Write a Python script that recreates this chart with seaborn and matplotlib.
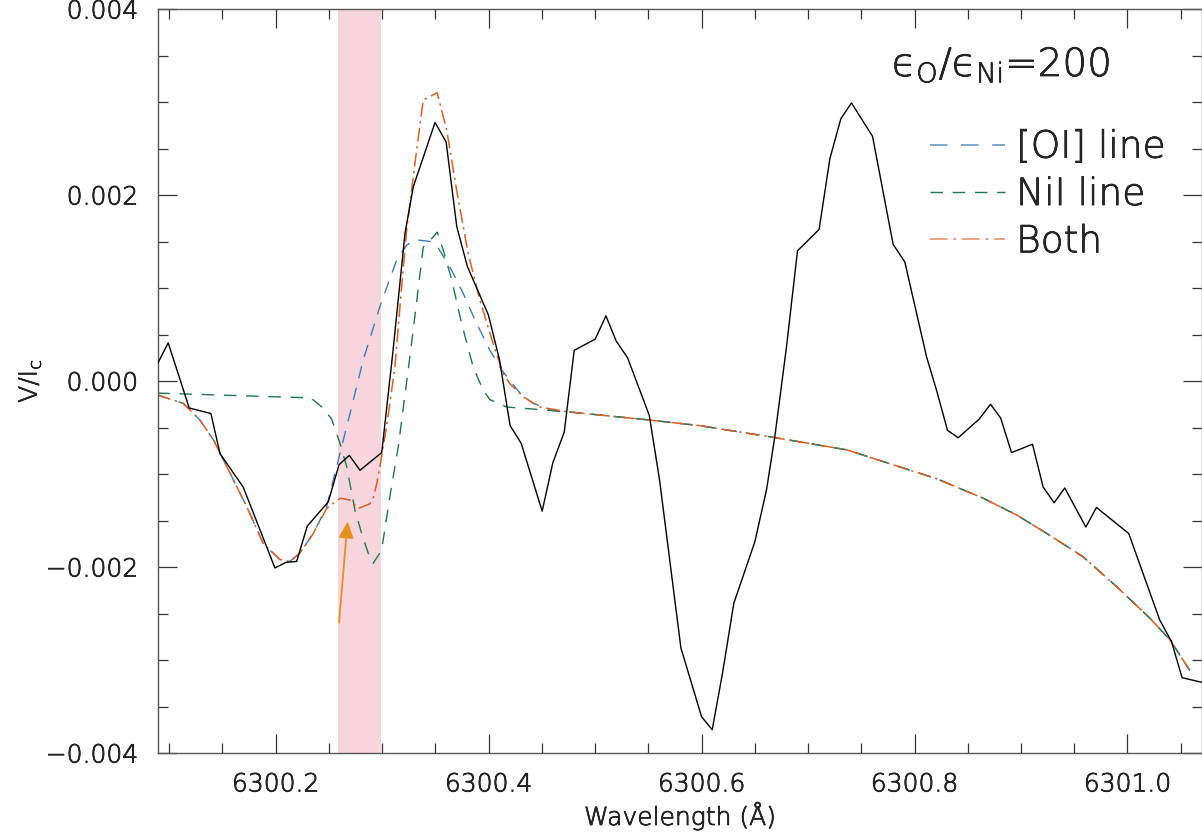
import numpy as np
import matplotlib
matplotlib.use("Agg")
import matplotlib.pyplot as plt
import matplotlib.patheffects as pe
import seaborn as sns
from matplotlib.lines import Line2D
from matplotlib.ticker import MultipleLocator, FormatStrFormatter, FuncFormatter

# observed Stokes V profile
wl_obs = [6300.0888, 6300.0991, 6300.1188, 6300.1392, 6300.1477, 6300.1695,
          6300.1993, 6300.2097, 6300.2197, 6300.2297, 6300.2494, 6300.2595,
          6300.2692, 6300.2792, 6300.2996, 6300.3100, 6300.3215, 6300.3293,
          6300.3497, 6300.3601, 6300.3701, 6300.3801, 6300.3998, 6300.4102,
          6300.4202, 6300.4306, 6300.4503, 6300.4603, 6300.4710, 6300.4804,
          6300.5001, 6300.5102, 6300.5198, 6300.5305, 6300.5509, 6300.5605,
          6300.5806, 6300.6000, 6300.6100, 6300.6197, 6300.6303, 6300.6500,
          6300.6610, 6300.6688, 6300.6798, 6300.6901, 6300.7104, 6300.7205,
          6300.7308, 6300.7408, 6300.7606, 6300.7799, 6300.7909, 6300.8113,
          6300.8207, 6300.8310, 6300.8410, 6300.8607, 6300.8714, 6300.8810,
          6300.8911, 6300.9108, 6300.9208, 6300.9311, 6300.9411, 6300.9609,
          6300.9709, 6301.0012, 6301.0303, 6301.0413, 6301.0513, 6301.0698]
v_obs = [0.00018, 0.00041, -0.00029, -0.00035, -0.00078, -0.00114,
         -0.00201, -0.00195, -0.00194, -0.00156, -0.00130, -0.00090,
         -0.00080, -0.00096, -0.00077, 0.00030, 0.00159, 0.00209,
         0.00278, 0.00257, 0.00166, 0.00123, 0.00071, 0.00023,
         -0.00048, -0.00067, -0.00140, -0.00088, -0.00055, 0.00033,
         0.00045, 0.00070, 0.00043, 0.00025, -0.00037, -0.00106,
         -0.00287, -0.00361, -0.00375, -0.00314, -0.00239, -0.00173,
         -0.00117, -0.00060, 0.00037, 0.00140, 0.00163, 0.00239,
         0.00282, 0.00299, 0.00263, 0.00147, 0.00128, 0.00026,
         -0.00010, -0.00053, -0.00061, -0.00041, -0.00025, -0.00040,
         -0.00077, -0.00068, -0.00114, -0.00131, -0.00115, -0.00157,
         -0.00136, -0.00164, -0.00257, -0.00280, -0.00319, -0.00324]

# common far wing of the synthetic profiles
wl_tail = [6300.4733, 6300.5515, 6300.5984, 6300.6642, 6300.7362, 6300.8206,
           6300.8644, 6300.8958, 6300.9271, 6300.9583, 6300.9897, 6301.0210,
           6301.0397, 6301.0585]
v_tail = [-0.00033, -0.00042, -0.00048, -0.00060, -0.00074, -0.00105,
          -0.00126, -0.00144, -0.00166, -0.00189, -0.00221, -0.00255,
          -0.00278, -0.00311]

# [OI] line synthesis
wl_oi = [6300.0888, 6300.1132, 6300.1289, 6300.1414, 6300.1571, 6300.1728,
         6300.1884, 6300.2040, 6300.2134, 6300.2228, 6300.2353, 6300.2479,
         6300.2573, 6300.2698, 6300.2823, 6300.2979, 6300.3136, 6300.3230,
         6300.3308, 6300.3449, 6300.3527, 6300.3653, 6300.3762, 6300.3887,
         6300.4012, 6300.4122, 6300.4231, 6300.4325, 6300.4419, 6300.4607]
v_oi = [-0.00015, -0.00024, -0.00042, -0.00063, -0.00099, -0.00135,
        -0.00175, -0.00192, -0.00194, -0.00185, -0.00164, -0.00135,
        -0.00092, -0.00035, 0.00023, 0.00080, 0.00130, 0.00146,
        0.00152, 0.00150, 0.00143, 0.00119, 0.00094, 0.00062,
        0.00033, 0.00012, -0.00004, -0.00017, -0.00024, -0.00032]

# NiI line synthesis
wl_ni = [6300.0888, 6300.2291, 6300.2338, 6300.2447, 6300.2526, 6300.2604,
         6300.2667, 6300.2745, 6300.2808, 6300.2869, 6300.2916, 6300.2995,
         6300.3073, 6300.3151, 6300.3245, 6300.3292, 6300.3386, 6300.3465,
         6300.3517, 6300.3574, 6300.3653, 6300.3746, 6300.3855, 6300.3949,
         6300.4012, 6300.4169, 6300.4513]
v_ni = [-0.00013, -0.00018, -0.00019, -0.00029, -0.00041, -0.00067,
        -0.00092, -0.00139, -0.00164, -0.00185, -0.00196, -0.00182,
        -0.00124, -0.00071, 0.00012, 0.00055, 0.00144, 0.00153,
        0.00160, 0.00141, 0.00109, 0.00062, 0.00015, -0.00010,
        -0.00020, -0.00028, -0.00031]

# both lines together
wl_both = [6300.0888, 6300.1132, 6300.1289, 6300.1414, 6300.1571, 6300.1728,
           6300.1884, 6300.2040, 6300.2134, 6300.2228, 6300.2353, 6300.2479,
           6300.2604, 6300.2698, 6300.2776, 6300.2885, 6300.2916, 6300.2950,
           6300.2979, 6300.3042, 6300.3120, 6300.3183, 6300.3230, 6300.3308,
           6300.3386, 6300.3517, 6300.3606, 6300.3700, 6300.3808, 6300.3918,
           6300.4043, 6300.4137, 6300.4200, 6300.4325, 6300.4482]
v_both = [-0.00015, -0.00024, -0.00042, -0.00063, -0.00099, -0.00135,
          -0.00175, -0.00192, -0.00194, -0.00185, -0.00164, -0.00137,
          -0.00126, -0.00128, -0.00137, -0.00132, -0.00126, -0.00110,
          -0.00092, -0.00049, 0.00015, 0.00101, 0.00162, 0.00234,
          0.00302, 0.00310, 0.00270, 0.00205, 0.00137, 0.00087,
          0.00040, 0.00008, -0.00003, -0.00017, -0.00028]

band = (6300.259, 6300.2987)
arrow_tail = (6300.2595, -0.0026)
arrow_head = (6300.2676, -0.00151)

labels = ["[OI] line", "NiI line", "Both"]
c_oi, c_ni, c_both = "#3a7bbf", "#1d7a4c", "#dc5f24"

sns.set_style("ticks")
plt.rcParams["font.family"] = ["DejaVu Sans"]
plt.rcParams["font.weight"] = "light"
plt.rcParams["axes.labelweight"] = "light"
plt.rcParams["mathtext.default"] = "regular"

# thin font, slightly thickened so it reads dark like the original
ink = [pe.withStroke(linewidth=0.5, foreground="black")]

fig = plt.figure(figsize=(12.02, 8.36), dpi=100)
ax = fig.add_axes([158 / 1202, 83 / 836, 1044 / 1202, 744 / 836])

ax.axvspan(band[0], band[1], color="#f7d5dc", lw=0, zorder=0)

sns.lineplot(x=wl_obs, y=v_obs, ax=ax, color="black", lw=1.0, zorder=3)
sns.lineplot(x=wl_oi + wl_tail, y=v_oi + v_tail, ax=ax, color=c_oi, lw=1.0,
             linestyle=(0, (9, 7)), zorder=2)
sns.lineplot(x=wl_ni + wl_tail, y=v_ni + v_tail, ax=ax, color=c_ni, lw=1.0,
             linestyle=(0, (9, 7)), zorder=2)
sns.lineplot(x=wl_both + wl_tail, y=v_both + v_tail, ax=ax, color=c_both, lw=1.1,
             linestyle=(0, (9, 3, 1.5, 3)), zorder=2)

ax.annotate("", xy=arrow_head, xytext=arrow_tail,
            arrowprops=dict(arrowstyle="-|>,head_length=1.0,head_width=0.45",
                            color="#e3901f", lw=1.3, shrinkA=0, shrinkB=0))

ax.set_xlim(6300.0895, 6301.07)
ax.set_ylim(-0.004, 0.004)
ax.xaxis.set_major_locator(MultipleLocator(0.2))
ax.xaxis.set_minor_locator(MultipleLocator(0.05))
ax.yaxis.set_major_locator(MultipleLocator(0.002))
ax.yaxis.set_minor_locator(MultipleLocator(0.0005))
ax.xaxis.set_major_formatter(FormatStrFormatter("%.1f"))
ax.yaxis.set_major_formatter(FuncFormatter(
    lambda v, p: f"{v:.3f}".replace("-", "\u2212") if abs(v) > 1e-9 else "0.000"))
ax.tick_params(which="both", direction="in", top=True, right=True,
               labelsize=18, color="#333333", width=0.9)
ax.tick_params(which="major", length=14, pad=14)
ax.tick_params(which="minor", length=7)
for s in ax.spines.values():
    s.set_color("#555555")
    s.set_linewidth(1.0)

ax.set_xlabel("Wavelength (Å)", fontsize=18, labelpad=4, path_effects=ink)
ax.set_ylabel("V/I$_c$", fontsize=18, labelpad=2, path_effects=ink)

ax.text(0.703, 0.925, "\u03f5$_O$/\u03f5$_{Ni}$=200", transform=ax.transAxes,
        fontsize=28, va="center", ha="left", path_effects=ink)

handles = [Line2D([], [], color="#7ba7d2", lw=1.4, linestyle=(0, (9, 7))),
           Line2D([], [], color=c_ni, lw=1.0, linestyle=(0, (9, 7))),
           Line2D([], [], color="#eaa27e", lw=1.4, linestyle=(0, (9, 3, 1.5, 3)))]
leg = ax.legend(handles, labels, loc="upper left", bbox_to_anchor=(0.725, 0.858),
                frameon=False, fontsize=27, handlelength=2.0, handletextpad=0.3,
                labelspacing=0.33, borderaxespad=0)
for t in leg.get_texts():
    t.set_path_effects(ink)

fig.canvas.draw()
for lbl in ax.get_xticklabels() + ax.get_yticklabels():
    lbl.set_path_effects(ink)

fig.savefig("out.png", dpi=100)
